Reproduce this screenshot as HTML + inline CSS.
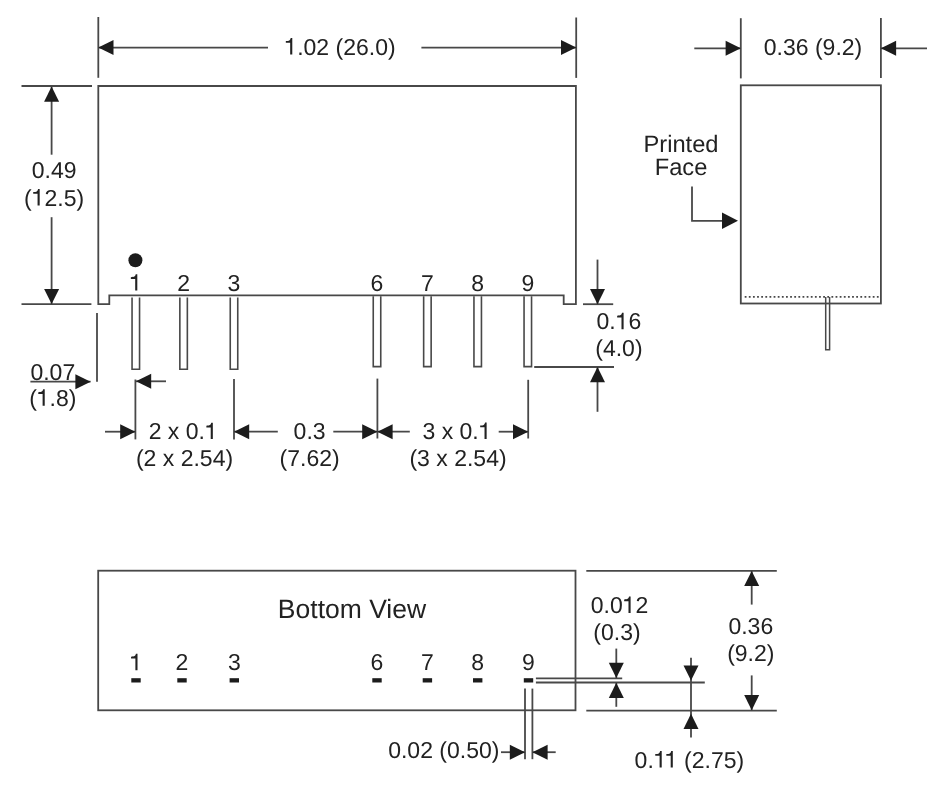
<!DOCTYPE html>
<html><head><meta charset="utf-8"><style>
html,body{margin:0;padding:0;background:#fff;}
svg{display:block;will-change:transform;}
text{font-family:"Liberation Sans",sans-serif;fill:#222;text-rendering:geometricPrecision;}
tspan.one{fill-opacity:0;}
</style></head><body>
<svg width="945" height="787" viewBox="0 0 945 787">
<rect width="945" height="787" fill="#fff"/>
<line x1="98.3" y1="17" x2="98.3" y2="77.8" stroke="#484848" stroke-width="1.8"/>
<line x1="576.2" y1="17.5" x2="576.2" y2="77.9" stroke="#484848" stroke-width="1.8"/>
<line x1="98.3" y1="47.6" x2="268" y2="47.6" stroke="#484848" stroke-width="1.8"/>
<line x1="421.4" y1="47.6" x2="576.2" y2="47.6" stroke="#484848" stroke-width="1.8"/>
<polygon points="98.30,47.60 113.50,40.10 113.50,55.10" fill="#1c1c1c"/>
<polygon points="576.20,47.60 561.00,40.10 561.00,55.10" fill="#1c1c1c"/>
<text transform="translate(340,54.5) scale(1.0000,1)" font-size="23.000" text-anchor="middle"><tspan class="one">1</tspan>.02 (26.0)</text>
<path d="M98.3,86.0 H575.9 V304.2 H563.7 V295.4 H109.3 V304.2 H98.3 Z" fill="none" stroke="#484848" stroke-width="1.8"/>
<line x1="21.5" y1="86.0" x2="92" y2="86.0" stroke="#484848" stroke-width="1.8"/>
<line x1="21.5" y1="304.1" x2="91.4" y2="304.1" stroke="#484848" stroke-width="1.8"/>
<line x1="51.6" y1="86.6" x2="51.6" y2="154.7" stroke="#484848" stroke-width="1.8"/>
<polygon points="51.60,86.60 44.10,101.80 59.10,101.80" fill="#1c1c1c"/>
<line x1="51.6" y1="217.2" x2="51.6" y2="304.1" stroke="#484848" stroke-width="1.8"/>
<polygon points="51.60,304.10 44.10,288.90 59.10,288.90" fill="#1c1c1c"/>
<text transform="translate(54.15,178) scale(1.0000,1)" font-size="23.000" text-anchor="middle">0.49</text>
<text transform="translate(54.15,205.5) scale(1.0000,1)" font-size="23.000" text-anchor="middle">(<tspan class="one">1</tspan>2.5)</text>
<circle cx="135.4" cy="260.3" r="7" fill="#1c1c1c"/>
<path d="M132.05,297.6 V369.3 H139.55 V297.6" fill="none" stroke="#484848" stroke-width="1.6"/>
<text transform="translate(135.8,290.6) scale(1.0000,1)" font-size="23.000" text-anchor="middle"><tspan class="one">1</tspan></text>
<path d="M179.85,297.6 V369.3 H187.35 V297.6" fill="none" stroke="#484848" stroke-width="1.6"/>
<text transform="translate(183.6,290.6) scale(1.0000,1)" font-size="23.000" text-anchor="middle">2</text>
<path d="M230.25,297.6 V369.3 H237.75 V297.6" fill="none" stroke="#484848" stroke-width="1.6"/>
<text transform="translate(234,290.6) scale(1.0000,1)" font-size="23.000" text-anchor="middle">3</text>
<path d="M373.25,296.2 V366.6 H380.75 V296.2" fill="none" stroke="#484848" stroke-width="1.6"/>
<text transform="translate(377,290.6) scale(1.0000,1)" font-size="23.000" text-anchor="middle">6</text>
<path d="M423.65,296.2 V366.6 H431.15 V296.2" fill="none" stroke="#484848" stroke-width="1.6"/>
<text transform="translate(427.4,290.6) scale(1.0000,1)" font-size="23.000" text-anchor="middle">7</text>
<path d="M473.95,296.2 V366.6 H481.45 V296.2" fill="none" stroke="#484848" stroke-width="1.6"/>
<text transform="translate(477.7,290.6) scale(1.0000,1)" font-size="23.000" text-anchor="middle">8</text>
<path d="M524.05,296.2 V366.6 H531.55 V296.2" fill="none" stroke="#484848" stroke-width="1.6"/>
<text transform="translate(527.8,290.6) scale(1.0000,1)" font-size="23.000" text-anchor="middle">9</text>
<line x1="97" y1="313" x2="97" y2="381.8" stroke="#484848" stroke-width="1.8"/>
<line x1="30.4" y1="381.7" x2="90.6" y2="381.7" stroke="#484848" stroke-width="1.8"/>
<polygon points="90.60,381.70 75.40,374.20 75.40,389.20" fill="#1c1c1c"/>
<text transform="translate(52.8,380.1) scale(1.0000,1)" font-size="23.000" text-anchor="middle">0.07</text>
<text transform="translate(52.8,405.7) scale(1.0000,1)" font-size="23.000" text-anchor="middle">(<tspan class="one">1</tspan>.8)</text>
<line x1="136" y1="381.3" x2="166" y2="381.3" stroke="#484848" stroke-width="1.8"/>
<polygon points="136.00,381.30 151.20,373.80 151.20,388.80" fill="#1c1c1c"/>
<line x1="135.4" y1="379.5" x2="135.4" y2="439.4" stroke="#484848" stroke-width="1.8"/>
<line x1="234" y1="379" x2="234" y2="439.4" stroke="#484848" stroke-width="1.8"/>
<line x1="377.4" y1="378.6" x2="377.4" y2="438.5" stroke="#484848" stroke-width="1.8"/>
<line x1="528.2" y1="379.8" x2="528.2" y2="438.5" stroke="#484848" stroke-width="1.8"/>
<line x1="105" y1="431.7" x2="135.4" y2="431.7" stroke="#484848" stroke-width="1.8"/>
<polygon points="135.40,431.70 120.20,424.20 120.20,439.20" fill="#1c1c1c"/>
<line x1="234" y1="431.7" x2="277.8" y2="431.7" stroke="#484848" stroke-width="1.8"/>
<polygon points="234.00,431.70 249.20,424.20 249.20,439.20" fill="#1c1c1c"/>
<line x1="333.3" y1="431.7" x2="377.4" y2="431.7" stroke="#484848" stroke-width="1.8"/>
<polygon points="377.40,431.70 362.20,424.20 362.20,439.20" fill="#1c1c1c"/>
<line x1="377.4" y1="431.7" x2="409.8" y2="431.7" stroke="#484848" stroke-width="1.8"/>
<polygon points="377.40,431.70 392.60,424.20 392.60,439.20" fill="#1c1c1c"/>
<line x1="498.7" y1="431.7" x2="528.2" y2="431.7" stroke="#484848" stroke-width="1.8"/>
<polygon points="528.20,431.70 513.00,424.20 513.00,439.20" fill="#1c1c1c"/>
<text transform="translate(183.2,439.1) scale(1.0000,1)" font-size="23.000" text-anchor="middle">2 x 0.<tspan class="one">1</tspan></text>
<text transform="translate(184.5,466.2) scale(1.0000,1)" font-size="23.000" text-anchor="middle">(2 x 2.54)</text>
<text transform="translate(309.6,439.0) scale(1.0000,1)" font-size="23.000" text-anchor="middle">0.3</text>
<text transform="translate(309.6,466.2) scale(1.0000,1)" font-size="23.000" text-anchor="middle">(7.62)</text>
<text transform="translate(457,439.0) scale(1.0000,1)" font-size="23.000" text-anchor="middle">3 x 0.<tspan class="one">1</tspan></text>
<text transform="translate(458,466.2) scale(1.0000,1)" font-size="23.000" text-anchor="middle">(3 x 2.54)</text>
<line x1="583" y1="304.2" x2="613.2" y2="304.2" stroke="#484848" stroke-width="1.8"/>
<line x1="597.5" y1="259.6" x2="597.5" y2="304.2" stroke="#484848" stroke-width="1.8"/>
<polygon points="597.50,304.20 590.00,289.00 605.00,289.00" fill="#1c1c1c"/>
<line x1="534.2" y1="367" x2="614" y2="367" stroke="#484848" stroke-width="1.8"/>
<line x1="597.5" y1="367" x2="597.5" y2="411.8" stroke="#484848" stroke-width="1.8"/>
<polygon points="597.50,367.00 590.00,382.20 605.00,382.20" fill="#1c1c1c"/>
<text transform="translate(618.9,329.2) scale(1.0000,1)" font-size="23.000" text-anchor="middle">0.<tspan class="one">1</tspan>6</text>
<text transform="translate(618.9,356.2) scale(1.0000,1)" font-size="23.000" text-anchor="middle">(4.0)</text>
<line x1="740.8" y1="18.2" x2="740.8" y2="78.4" stroke="#484848" stroke-width="1.8"/>
<line x1="880.9" y1="18" x2="880.9" y2="78.0" stroke="#484848" stroke-width="1.8"/>
<line x1="694.3" y1="48.3" x2="740.8" y2="48.3" stroke="#484848" stroke-width="1.8"/>
<polygon points="740.80,48.30 725.60,40.80 725.60,55.80" fill="#1c1c1c"/>
<line x1="880.9" y1="48.3" x2="927" y2="48.3" stroke="#484848" stroke-width="1.8"/>
<polygon points="880.90,48.30 896.10,40.80 896.10,55.80" fill="#1c1c1c"/>
<text transform="translate(813,54.5) scale(1.0000,1)" font-size="23.000" text-anchor="middle">0.36 (9.2)</text>
<rect x="740.8" y="85.3" width="140.1" height="218.2" fill="none" stroke="#484848" stroke-width="1.8"/>
<line x1="744.7" y1="296.8" x2="880" y2="296.8" stroke="#484848" stroke-width="1.7" stroke-dasharray="1.8 2.33"/>
<path d="M825.7,297 V349.8 H829.6 V297" fill="none" stroke="#484848" stroke-width="1.5"/>
<text transform="translate(681,151.8) scale(1.0000,1)" font-size="23.700" text-anchor="middle">Printed</text>
<text transform="translate(681,174.6) scale(1.0000,1)" font-size="23.700" text-anchor="middle">Face</text>
<path d="M692,186.5 V220.8 H730" fill="none" stroke="#484848" stroke-width="1.8"/>
<polygon points="738.00,220.80 722.00,212.60 722.00,229.00" fill="#1c1c1c"/>
<rect x="98.2" y="570.7" width="477.3" height="139.6" fill="none" stroke="#484848" stroke-width="1.8"/>
<text transform="translate(352,617.5) scale(1.0000,1)" font-size="26.500" text-anchor="middle">Bottom View</text>
<rect x="131.3" y="678.2" width="9.4" height="4.3" fill="#1c1c1c"/>
<text transform="translate(136,670.2) scale(1.0000,1)" font-size="23.000" text-anchor="middle"><tspan class="one">1</tspan></text>
<rect x="177.3" y="678.2" width="9.4" height="4.3" fill="#1c1c1c"/>
<text transform="translate(182,670.2) scale(1.0000,1)" font-size="23.000" text-anchor="middle">2</text>
<rect x="229.60000000000002" y="678.2" width="9.4" height="4.3" fill="#1c1c1c"/>
<text transform="translate(234.3,670.2) scale(1.0000,1)" font-size="23.000" text-anchor="middle">3</text>
<rect x="372.3" y="678.2" width="9.4" height="4.3" fill="#1c1c1c"/>
<text transform="translate(377,670.2) scale(1.0000,1)" font-size="23.000" text-anchor="middle">6</text>
<rect x="422.7" y="678.2" width="9.4" height="4.3" fill="#1c1c1c"/>
<text transform="translate(427.4,670.2) scale(1.0000,1)" font-size="23.000" text-anchor="middle">7</text>
<rect x="473.0" y="678.2" width="9.4" height="4.3" fill="#1c1c1c"/>
<text transform="translate(477.7,670.2) scale(1.0000,1)" font-size="23.000" text-anchor="middle">8</text>
<rect x="523.8" y="678.2" width="9.4" height="4.3" fill="#1c1c1c"/>
<text transform="translate(528.5,670.2) scale(1.0000,1)" font-size="23.000" text-anchor="middle">9</text>
<line x1="535.9" y1="678.3" x2="622.2" y2="678.3" stroke="#484848" stroke-width="1.8"/>
<line x1="535.9" y1="682.5" x2="704.8" y2="682.5" stroke="#484848" stroke-width="1.8"/>
<line x1="616.3" y1="648.6" x2="616.3" y2="678.3" stroke="#484848" stroke-width="1.8"/>
<polygon points="616.30,678.00 608.80,662.80 623.80,662.80" fill="#1c1c1c"/>
<line x1="616.3" y1="682.5" x2="616.3" y2="706.8" stroke="#484848" stroke-width="1.8"/>
<polygon points="616.30,682.70 608.80,697.90 623.80,697.90" fill="#1c1c1c"/>
<text transform="translate(619.5,612.9) scale(1.0000,1)" font-size="23.000" text-anchor="middle">0.0<tspan class="one">1</tspan>2</text>
<text transform="translate(617,640.3) scale(1.0000,1)" font-size="23.000" text-anchor="middle">(0.3)</text>
<line x1="586.3" y1="570.9" x2="776.8" y2="570.9" stroke="#484848" stroke-width="1.8"/>
<line x1="586.3" y1="710.6" x2="776.8" y2="710.6" stroke="#484848" stroke-width="1.8"/>
<line x1="751.7" y1="570.9" x2="751.7" y2="604.6" stroke="#484848" stroke-width="1.8"/>
<polygon points="751.70,570.90 744.20,586.10 759.20,586.10" fill="#1c1c1c"/>
<line x1="751.7" y1="675.4" x2="751.7" y2="710.3" stroke="#484848" stroke-width="1.8"/>
<polygon points="751.70,710.30 744.20,695.10 759.20,695.10" fill="#1c1c1c"/>
<text transform="translate(750.8,634.1) scale(1.0000,1)" font-size="23.000" text-anchor="middle">0.36</text>
<text transform="translate(750.8,660.7) scale(1.0000,1)" font-size="23.000" text-anchor="middle">(9.2)</text>
<line x1="691" y1="657.7" x2="691" y2="737.6" stroke="#484848" stroke-width="1.8"/>
<polygon points="691.00,680.60 683.50,665.40 698.50,665.40" fill="#1c1c1c"/>
<polygon points="691.00,713.80 683.50,729.00 698.50,729.00" fill="#1c1c1c"/>
<text transform="translate(689.4,767.5) scale(1.0000,1)" font-size="23.000" text-anchor="middle">0.<tspan class="one">1</tspan><tspan class="one">1</tspan> (2.75)</text>
<line x1="525" y1="688.6" x2="525" y2="759.2" stroke="#484848" stroke-width="1.8"/>
<line x1="532.4" y1="688.6" x2="532.4" y2="759.2" stroke="#484848" stroke-width="1.8"/>
<line x1="501" y1="752.2" x2="525" y2="752.2" stroke="#484848" stroke-width="1.8"/>
<polygon points="525.00,752.20 509.80,744.70 509.80,759.70" fill="#1c1c1c"/>
<line x1="532.4" y1="752.2" x2="555.7" y2="752.2" stroke="#484848" stroke-width="1.8"/>
<polygon points="532.40,752.20 547.60,744.70 547.60,759.70" fill="#1c1c1c"/>
<text transform="translate(443.8,758.1) scale(1.0000,1)" font-size="23.000" text-anchor="middle">0.02 (0.50)</text>
<path transform="translate(291.23,54.5) scale(0.0230,-0.0230)" d="M46,0 L46,713 L-22,713 C-32,665 -52,632 -82,614 C-112,596 -160,588 -235,584 L-235,506 L-46,506 L-46,0 Z" fill="#222"/>
<path transform="translate(38.62,205.5) scale(0.0230,-0.0230)" d="M46,0 L46,713 L-22,713 C-32,665 -52,632 -82,614 C-112,596 -160,588 -235,584 L-235,506 L-46,506 L-46,0 Z" fill="#222"/>
<path transform="translate(136.25,290.6) scale(0.0230,-0.0230)" d="M46,0 L46,713 L-22,713 C-32,665 -52,632 -82,614 C-112,596 -160,588 -235,584 L-235,506 L-46,506 L-46,0 Z" fill="#222"/>
<path transform="translate(43.67,405.7) scale(0.0230,-0.0230)" d="M46,0 L46,713 L-22,713 C-32,665 -52,632 -82,614 C-112,596 -160,588 -235,584 L-235,506 L-46,506 L-46,0 Z" fill="#222"/>
<path transform="translate(211.78,439.1) scale(0.0230,-0.0230)" d="M46,0 L46,713 L-22,713 C-32,665 -52,632 -82,614 C-112,596 -160,588 -235,584 L-235,506 L-46,506 L-46,0 Z" fill="#222"/>
<path transform="translate(485.58,439) scale(0.0230,-0.0230)" d="M46,0 L46,713 L-22,713 C-32,665 -52,632 -82,614 C-112,596 -160,588 -235,584 L-235,506 L-46,506 L-46,0 Z" fill="#222"/>
<path transform="translate(622.55,329.2) scale(0.0230,-0.0230)" d="M46,0 L46,713 L-22,713 C-32,665 -52,632 -82,614 C-112,596 -160,588 -235,584 L-235,506 L-46,506 L-46,0 Z" fill="#222"/>
<path transform="translate(136.45,670.2) scale(0.0230,-0.0230)" d="M46,0 L46,713 L-22,713 C-32,665 -52,632 -82,614 C-112,596 -160,588 -235,584 L-235,506 L-46,506 L-46,0 Z" fill="#222"/>
<path transform="translate(629.55,612.9) scale(0.0230,-0.0230)" d="M46,0 L46,713 L-22,713 C-32,665 -52,632 -82,614 C-112,596 -160,588 -235,584 L-235,506 L-46,506 L-46,0 Z" fill="#222"/>
<path transform="translate(660.66,767.5) scale(0.0230,-0.0230)" d="M46,0 L46,713 L-22,713 C-32,665 -52,632 -82,614 C-112,596 -160,588 -235,584 L-235,506 L-46,506 L-46,0 Z" fill="#222"/>
<path transform="translate(671.75,767.5) scale(0.0230,-0.0230)" d="M46,0 L46,713 L-22,713 C-32,665 -52,632 -82,614 C-112,596 -160,588 -235,584 L-235,506 L-46,506 L-46,0 Z" fill="#222"/>
</svg>
</body></html>
